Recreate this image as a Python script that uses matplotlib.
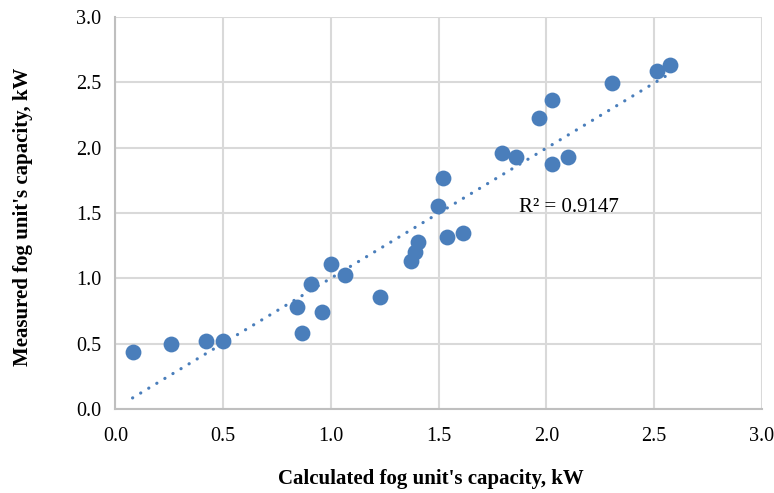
import numpy as np
import matplotlib
matplotlib.use("Agg")
import matplotlib.pyplot as plt

# values
calculated = [0.08, 0.26, 0.42, 0.50, 0.845, 0.866, 0.909, 0.959, 1.002, 1.067,
              1.226, 1.373, 1.388, 1.405, 1.497, 1.52, 1.54, 1.613, 1.796, 1.858,
              1.967, 2.026, 2.026, 2.099, 2.303, 2.513, 2.574]
measured = [0.44, 0.50, 0.52, 0.52, 0.785, 0.58, 0.955, 0.746, 1.108, 1.03,
            0.856, 1.135, 1.205, 1.28, 1.551, 1.765, 1.32, 1.345, 1.958, 1.932,
            2.228, 2.362, 1.872, 1.928, 2.495, 2.584, 2.635]
r2_label = "R² = 0.9147"

plt.rcParams["font.family"] = ["Liberation Serif", "DejaVu Serif"]

fig = plt.figure(figsize=(7.74, 4.93), dpi=100)
ax = fig.add_axes([0.149, 0.170, 0.8355, 0.7955])

blue = "#4a7ebb"
ax.scatter(calculated, measured, s=130, color=blue, zorder=3, linewidths=0)

# linear trendline
slope, intercept = np.polyfit(calculated, measured, 1)
xs = np.array([min(calculated), max(calculated)])
ax.plot(xs, slope * xs + intercept, color=blue, lw=2.3,
        linestyle=(0, (0.05, 2.9)), dash_capstyle="round", zorder=2)

ax.text(1.874, 1.54, r2_label, fontsize=15, va="center", ha="left")

ax.set_xlim(0, 3.0)
ax.set_ylim(0, 3.0)
ticks = np.arange(0, 3.01, 0.5)
ax.set_xticks(ticks)
ax.set_yticks(ticks)
ax.set_xticklabels([f"{t:.1f}" for t in ticks], fontsize=14.5)
ax.set_yticklabels([f"{t:.1f}" for t in ticks], fontsize=14.5)
ax.tick_params(length=0)
ax.tick_params(axis="x", pad=13)
ax.tick_params(axis="y", pad=10)

ax.grid(True, color="#d9d9d9", lw=1.5)
ax.set_axisbelow(True)
for side in ["top", "right"]:
    ax.spines[side].set_visible(False)
for side in ["left", "bottom"]:
    ax.spines[side].set_color("#bfbfbf")
    ax.spines[side].set_linewidth(1.5)

ax.set_xlabel("Calculated fog unit's capacity, kW", fontsize=15,
              fontweight="bold")
ax.set_ylabel("Measured fog unit's capacity, kW", fontsize=15,
              fontweight="bold")
ax.xaxis.set_label_coords(0.488, -0.153)
ax.yaxis.set_label_coords(-0.127, 0.49)

fig.savefig("out.png", dpi=100)
